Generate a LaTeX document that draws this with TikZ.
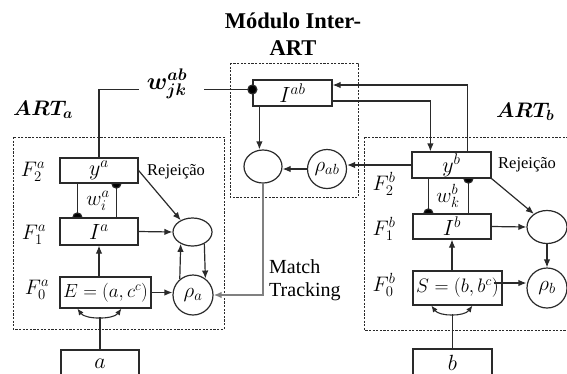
\RequirePackage{fix-cm}
\documentclass[tikz,border=0pt]{standalone}
\usepackage{fontspec}
\setmainfont{Liberation Serif}
\usepackage{bm}
\usetikzlibrary{arrows.meta,shapes.geometric,calc}
\definecolor{ln}{HTML}{2A2A2A}
\definecolor{mtgray}{HTML}{808080}
\newcommand{\fsz}[1]{\fontsize{#1}{#1}\selectfont}
\begin{document}
\begin{tikzpicture}[x=1pt,y=-1pt,
  box/.style={draw=ln, line width=1.2pt, rectangle, inner sep=0pt, font=\fsz{22}},
  circ/.style={draw=ln, circle, line width=1.2pt, minimum size=40pt, inner sep=0pt, font=\fsz{21}},
  ell/.style={draw=ln, ellipse, line width=1.2pt, inner sep=0pt},
  ln/.style={draw=ln, line width=1.2pt},
  conn/.style={draw=ln, line width=1.2pt, -{Latex[length=8pt,width=6.5pt]}},
  arcarr/.style={draw=ln, line width=1.1pt, {Latex[length=6.5pt,width=5.5pt]}-{Latex[length=6.5pt,width=5.5pt]}},
  mt/.style={draw=mtgray, line width=2pt, -{Latex[length=8pt,width=6.5pt]}},
  dashbox/.style={draw=ln, line width=0.9pt, dash pattern=on 2.2pt off 1.4pt},
  lbl/.style={inner sep=0pt},
  flbl/.style={inner sep=0pt, font=\fsz{21}},
]
\useasboundingbox (0,0) rectangle (567,373);
\clip (0,0) rectangle (567,373);

% dashed modules
\draw[dashbox] (13,137) rectangle (224,329);
\draw[dashbox] (230,63) rectangle (358,197);
\draw[dashbox] (364,137) rectangle (590,330);

% titles
\node[lbl, anchor=base, font=\bfseries\fsz{22.5}] (t1) at (293,28) {Módulo Inter-};
\node[lbl, anchor=base, font=\bfseries\fsz{22.5}] (t2) at (293,55) {ART};
\node[lbl, anchor=base west, font=\fsz{21}] (arta) at (13,115) {$\bm{ART_a}$};
\node[lbl, anchor=base west, font=\fsz{21}] (artb) at (496,117) {$\bm{ART_b}$};
\node[lbl, font=\fsz{24}] (wjk) at (167,84) {$\bm{w_{jk}^{ab}}$};

% ART_a boxes
\node[box, minimum width=78pt, minimum height=25pt] (ya) at (99,170.5) {$y^a$};
\node[box, minimum width=78pt, minimum height=27pt] (Ia) at (99,231.5) {$I^a$};
\node[box, minimum width=91pt, minimum height=31pt, font=\fsz{19}] (E) at (105.5,292.5) {$E=(a,c^c)$};
\node[box, minimum width=78pt, minimum height=28pt] (abox) at (100,364) {$a$};
\node[ell, minimum width=39pt, minimum height=28pt] (ea) at (192.5,232) {};
\node[circ] (rhoa) at (193,295) {$\rho_a$};

% inter-ART
\node[box, minimum width=79pt, minimum height=26pt] (Iab) at (292.5,93) {$I^{ab}$};
\node[ell, minimum width=38pt, minimum height=33pt] (eab) at (263,166.5) {};
\node[circ, minimum size=39pt] (rhoab) at (327,169) {$\rho_{ab}$};

% ART_b boxes
\node[box, minimum width=79pt, minimum height=26pt] (yb) at (451.5,165) {$y^b$};
\node[box, minimum width=78pt, minimum height=25pt] (Ib) at (452,226.5) {$I^b$};
\node[box, minimum width=89pt, minimum height=34pt, font=\fsz{19.5}] (S) at (457.5,288) {$S=(b,b^c)$};
\node[box, minimum width=79pt, minimum height=28pt] (bbox) at (452.5,363) {$b$};
\node[ell, minimum width=40pt, minimum height=33pt] (eb) at (547,227) {};
\node[circ] (rhob) at (547,288) {$\rho_b$};

% F labels
\node[flbl] (f2a) at (33,172) {$F_2^a$};
\node[flbl] (f1a) at (34,235) {$F_1^a$};
\node[flbl] (f0a) at (37,290) {$F_0^a$};
\node[flbl] (f2b) at (384,184) {$F_2^b$};
\node[flbl] (f1b) at (384,229) {$F_1^b$};
\node[flbl] (f0b) at (384,285) {$F_0^b$};
\node[flbl] (wia) at (98,201) {$w_i^a$};
\node[flbl] (wkb) at (448,196) {$w_k^b$};

% text labels
\node[lbl, anchor=base west, font=\fsz{16.5}] (rja) at (147,175) {Rejeição};
\node[lbl, anchor=base west, font=\fsz{16.5}] (rjb) at (498,168) {Rejeição};
\node[lbl, anchor=base west, font=\fsz{20}] (m1) at (269,273) {Match};
\node[lbl, anchor=base west, font=\fsz{20}] (m2) at (269,296) {Tracking};

% w_jk^ab link
\coordinate (wl) at (139,89.5);
\coordinate (wr) at (204,89.5);
\draw[ln] (ya.north) |- (wl);
\draw[ln] (wr) -- (wr -| Iab.west);
\fill[ln] (wr -| Iab.west) circle (4.5);

% y^b <-> I^ab
\coordinate (ybr) at ($(yb.north west)+(56,0)$);
\coordinate (ybl) at ($(yb.north west)+(19,0)$);
\draw[conn] (ybr) |- ($(Iab.east)+(0,-8)$);
\draw[conn] ($(Iab.east)+(0,8)$) -| (ybl);
\coordinate (iabs) at ($(Iab.south west)+(7,0)$);
\draw[conn] (iabs) -- (iabs |- eab.north);
\draw[conn] (rhoab.west) -- (rhoab.west -| eab.east);
\draw[conn] (yb.west) -- (yb.west -| rhoab.east);

% match tracking
\draw[mt] (eab.south) |- (rhoa.east);

% ART_a internals
\draw[conn] (ya.east) -- (ea.135);
\draw[conn] (Ia.east) -- (ea.west);
\draw[conn] (ea.315) -- (rhoa.53);
\draw[conn] (rhoa.130) -- (ea.225);
\draw[conn] (E.east) -- (E.east -| rhoa.west);
\coordinate (Ein) at (Ia.south |- E.north);
\draw[conn] (Ein) -- (Ia.south);
\coordinate (wal) at ($(Ia.north west)+(18,0)$);
\coordinate (war) at ($(Ia.north west)+(57,0)$);
\draw[ln] (wal |- ya.south) -- (wal);
\fill[ln] (wal) ++(-4.5,0) arc[start angle=180, end angle=360, radius=4.5] -- cycle;
\draw[ln] (war) -- (war |- ya.south);
\fill[ln] (war |- ya.south) ++(-4.5,0) arc[start angle=180, end angle=0, radius=4.5] -- cycle;
\coordinate (eal) at ($(E.south west)+(18,0)$);
\coordinate (ear) at ($(E.south west)+(62,0)$);
\draw[arcarr] (eal) .. controls +(8,11) and +(-8,11) .. (ear);
\coordinate (eam) at ($(eal)!0.5!(ear)+(0,8.25)$);
\draw[ln] (abox.north) -- (abox.north |- eam);

% ART_b internals
\draw[conn] (yb.south east) -- (eb.135);
\draw[conn] (Ib.east) -- (eb.west);
\draw[conn] (eb.south) -- (rhob.north);
\coordinate (Sin) at (Ib.south |- S.north);
\draw[conn] (Sin) -- (Ib.south);
\coordinate (Sout) at ($(S.east)+(-9,-5)$);
\draw[conn] (Sout) -- (Sout -| rhob.west);
\coordinate (wbl) at ($(Ib.north west)+(16,0)$);
\coordinate (wbr) at ($(Ib.north west)+(56,0)$);
\draw[ln] (wbl |- yb.south) -- (wbl);
\fill[ln] (wbl) ++(-4.5,0) arc[start angle=180, end angle=360, radius=4.5] -- cycle;
\draw[ln] (wbr) -- (wbr |- yb.south);
\fill[ln] (wbr |- yb.south) ++(-4.5,0) arc[start angle=180, end angle=0, radius=4.5] -- cycle;
\coordinate (sl) at ($(S.south west)+(19,0)$);
\coordinate (sr) at ($(S.south west)+(60,0)$);
\draw[arcarr] (sl) .. controls +(8,11) and +(-8,11) .. (sr);
\coordinate (sm) at ($(sl)!0.5!(sr)+(0,8.25)$);
\draw[ln] (bbox.north) -- (bbox.north |- sm);
\end{tikzpicture}
\end{document}
